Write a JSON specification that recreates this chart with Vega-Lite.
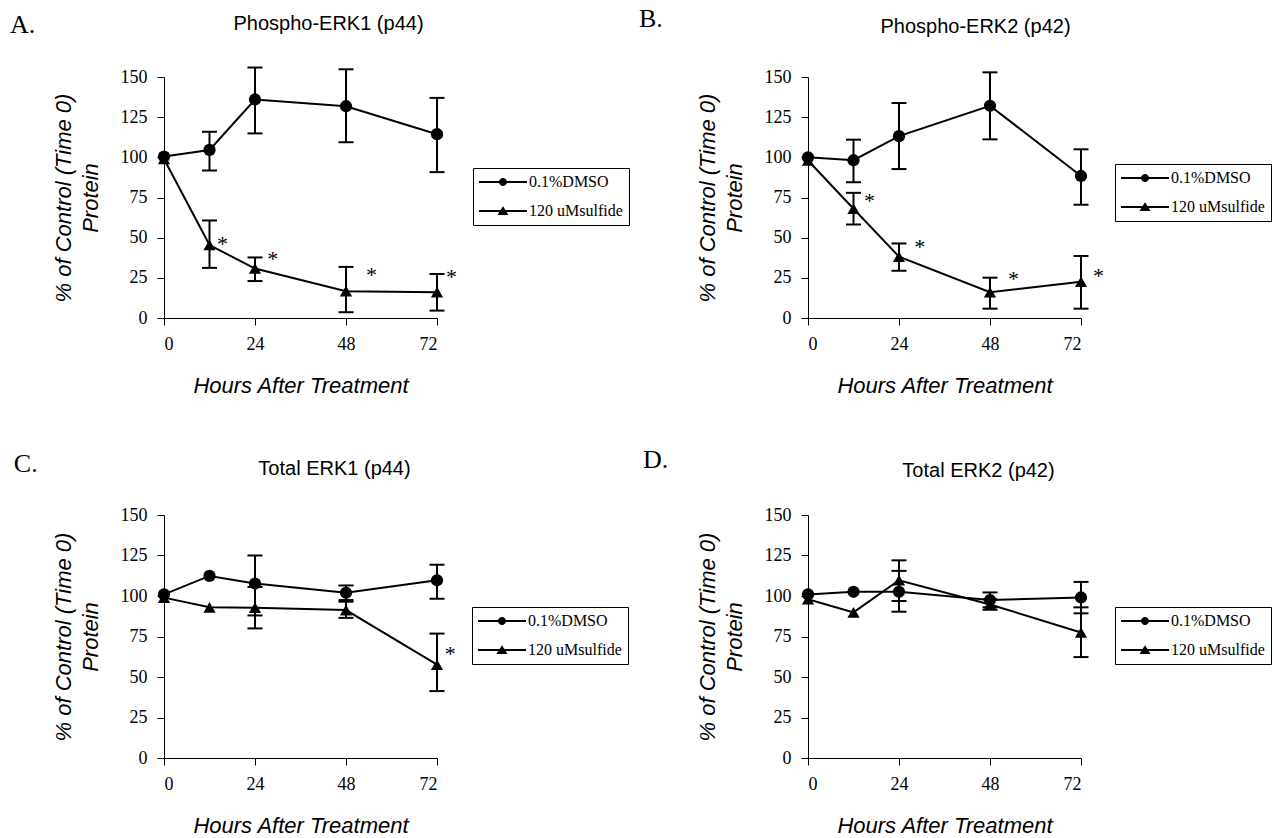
{
  "$schema": "https://vega.github.io/schema/vega-lite/v6.json",
  "padding": {"left": 10, "top": 6, "right": 0, "bottom": 0},
  "background": "white",
  "datasets": {
    "obs": [
      {"panel": "A", "series": "0.1%DMSO", "hour": 0, "mean": 100.5, "lo": null, "hi": null},
      {"panel": "A", "series": "0.1%DMSO", "hour": 12, "mean": 104.6, "lo": 91.8, "hi": 115.9},
      {"panel": "A", "series": "0.1%DMSO", "hour": 24, "mean": 136, "lo": 114.9, "hi": 155.9},
      {"panel": "A", "series": "0.1%DMSO", "hour": 48, "mean": 131.8, "lo": 109.4, "hi": 154.8},
      {"panel": "A", "series": "0.1%DMSO", "hour": 72, "mean": 114.4, "lo": 90.8, "hi": 137},
      {"panel": "A", "series": "120 uMsulfide", "hour": 0, "mean": 99, "lo": null, "hi": null},
      {"panel": "A", "series": "120 uMsulfide", "hour": 12, "mean": 45.4, "lo": 31.2, "hi": 60.7},
      {"panel": "A", "series": "120 uMsulfide", "hour": 24, "mean": 30.8, "lo": 23, "hi": 37.7},
      {"panel": "A", "series": "120 uMsulfide", "hour": 48, "mean": 16.7, "lo": 3.6, "hi": 31.8},
      {"panel": "A", "series": "120 uMsulfide", "hour": 72, "mean": 16.1, "lo": 4.6, "hi": 27.4},
      {"panel": "B", "series": "0.1%DMSO", "hour": 0, "mean": 100, "lo": null, "hi": null},
      {"panel": "B", "series": "0.1%DMSO", "hour": 12, "mean": 98.2, "lo": 84.5, "hi": 111},
      {"panel": "B", "series": "0.1%DMSO", "hour": 24, "mean": 113.2, "lo": 92.7, "hi": 133.8},
      {"panel": "B", "series": "0.1%DMSO", "hour": 48, "mean": 132.1, "lo": 111.2, "hi": 152.9},
      {"panel": "B", "series": "0.1%DMSO", "hour": 72, "mean": 88.4, "lo": 70.5, "hi": 105},
      {"panel": "B", "series": "120 uMsulfide", "hour": 0, "mean": 98, "lo": null, "hi": null},
      {"panel": "B", "series": "120 uMsulfide", "hour": 12, "mean": 68, "lo": 58.2, "hi": 77.9},
      {"panel": "B", "series": "120 uMsulfide", "hour": 24, "mean": 38.2, "lo": 29.4, "hi": 46.4},
      {"panel": "B", "series": "120 uMsulfide", "hour": 48, "mean": 16, "lo": 5.8, "hi": 25.1},
      {"panel": "B", "series": "120 uMsulfide", "hour": 72, "mean": 22.6, "lo": 5.8, "hi": 38.6},
      {"panel": "C", "series": "0.1%DMSO", "hour": 0, "mean": 101, "lo": null, "hi": null},
      {"panel": "C", "series": "0.1%DMSO", "hour": 12, "mean": 112.4, "lo": null, "hi": null},
      {"panel": "C", "series": "0.1%DMSO", "hour": 24, "mean": 107.7, "lo": 88, "hi": 125},
      {"panel": "C", "series": "0.1%DMSO", "hour": 48, "mean": 102, "lo": 97.5, "hi": 106.5},
      {"panel": "C", "series": "0.1%DMSO", "hour": 72, "mean": 109.7, "lo": 98.3, "hi": 119.3},
      {"panel": "C", "series": "120 uMsulfide", "hour": 0, "mean": 99, "lo": null, "hi": null},
      {"panel": "C", "series": "120 uMsulfide", "hour": 12, "mean": 93, "lo": null, "hi": null},
      {"panel": "C", "series": "120 uMsulfide", "hour": 24, "mean": 92.8, "lo": 80, "hi": 105.6},
      {"panel": "C", "series": "120 uMsulfide", "hour": 48, "mean": 91.3, "lo": 86.5, "hi": 96.5},
      {"panel": "C", "series": "120 uMsulfide", "hour": 72, "mean": 57.6, "lo": 41.3, "hi": 76.8},
      {"panel": "D", "series": "0.1%DMSO", "hour": 0, "mean": 101, "lo": null, "hi": null},
      {"panel": "D", "series": "0.1%DMSO", "hour": 12, "mean": 102.6, "lo": null, "hi": null},
      {"panel": "D", "series": "0.1%DMSO", "hour": 24, "mean": 102.6, "lo": 90.3, "hi": 115.5},
      {"panel": "D", "series": "0.1%DMSO", "hour": 48, "mean": 97.5, "lo": 93, "hi": 102.2},
      {"panel": "D", "series": "0.1%DMSO", "hour": 72, "mean": 99.1, "lo": 89.3, "hi": 108.7},
      {"panel": "D", "series": "120 uMsulfide", "hour": 0, "mean": 98, "lo": null, "hi": null},
      {"panel": "D", "series": "120 uMsulfide", "hour": 12, "mean": 89.9, "lo": null, "hi": null},
      {"panel": "D", "series": "120 uMsulfide", "hour": 24, "mean": 109.7, "lo": 96.9, "hi": 122},
      {"panel": "D", "series": "120 uMsulfide", "hour": 48, "mean": 94.8, "lo": 91.5, "hi": 98},
      {"panel": "D", "series": "120 uMsulfide", "hour": 72, "mean": 77.5, "lo": 62.3, "hi": 93}
    ],
    "stars": [
      {"panel": "A", "hour": 15.4, "y": 48.5, "label": "*"},
      {"panel": "A", "hour": 28.7, "y": 39.1, "label": "*"},
      {"panel": "A", "hour": 54.7, "y": 29.1, "label": "*"},
      {"panel": "A", "hour": 75.8, "y": 28.2, "label": "*"},
      {"panel": "B", "hour": 16.2, "y": 75.6, "label": "*"},
      {"panel": "B", "hour": 29.5, "y": 46.4, "label": "*"},
      {"panel": "B", "hour": 54.2, "y": 26.7, "label": "*"},
      {"panel": "B", "hour": 76.6, "y": 28.8, "label": "*"},
      {"panel": "C", "hour": 75.5, "y": 66.8, "label": "*"}
    ],
    "letters": [
      {"panel": "A", "hour": -40.6, "y": 177.4, "label": "A."},
      {"panel": "B", "hour": -44.6, "y": 181, "label": "B."},
      {"panel": "C", "hour": -39.6, "y": 176.5, "label": "C."},
      {"panel": "D", "hour": -43.5, "y": 179, "label": "D."}
    ]
  },
  "columns": 2,
  "spacing": {"row": 197, "column": 371},
  "bounds": "flush",
  "resolve": {"scale": {"shape": "independent", "opacity": "independent"}, "legend": {"shape": "independent", "opacity": "independent"}},
  "concat": [
    {
      "width": 273, "height": 241,
      "title": {"text": "Phospho-ERK1 (p44)", "dx": 28, "offset": -22.5},
      "layer": [
        {"data": {"name": "obs"}, "transform": [{"filter": "datum.panel === 'A' && isValid(datum.lo)"}],
         "mark": {"type": "rule", "strokeWidth": 2, "color": "black"},
         "encoding": {"x": {"field": "hour", "type": "quantitative", "scale": {"domain": [0, 72], "nice": false}, "axis": {"title": "Hours After Treatment", "values": [0, 24, 48, 72]}},
                      "y": {"field": "lo", "type": "quantitative", "scale": {"domain": [0, 150], "nice": false}, "axis": {"title": ["% of Control (Time 0)", "Protein"], "values": [0, 25, 50, 75, 100, 125, 150]}},
                      "y2": {"field": "hi"}}},
        {"data": {"name": "obs"}, "transform": [{"filter": "datum.panel === 'A' && isValid(datum.lo)"}, {"fold": ["lo", "hi"], "as": ["bound", "val"]}],
         "mark": {"type": "tick", "orient": "horizontal", "size": 15, "thickness": 2, "color": "black", "opacity": 1},
         "encoding": {"x": {"field": "hour", "type": "quantitative", "scale": {"domain": [0, 72], "nice": false}, "axis": {"title": "Hours After Treatment", "values": [0, 24, 48, 72]}},
                      "y": {"field": "val", "type": "quantitative", "scale": {"domain": [0, 150], "nice": false}, "axis": {"title": ["% of Control (Time 0)", "Protein"], "values": [0, 25, 50, 75, 100, 125, 150]}}}},
        {"data": {"name": "obs"}, "transform": [{"filter": "datum.panel === 'A'"}],
         "mark": {"type": "line", "strokeWidth": 2, "color": "black"},
         "encoding": {"x": {"field": "hour", "type": "quantitative", "scale": {"domain": [0, 72], "nice": false}, "axis": {"title": "Hours After Treatment", "values": [0, 24, 48, 72]}},
                      "y": {"field": "mean", "type": "quantitative", "scale": {"domain": [0, 150], "nice": false}, "axis": {"title": ["% of Control (Time 0)", "Protein"], "values": [0, 25, 50, 75, 100, 125, 150]}},
                      "detail": {"field": "series"}}},
        {"data": {"name": "obs"}, "transform": [{"filter": "datum.panel === 'A'"}],
         "mark": {"type": "point", "filled": true, "size": 150, "color": "black"},
         "encoding": {"x": {"field": "hour", "type": "quantitative", "scale": {"domain": [0, 72], "nice": false}, "axis": {"title": "Hours After Treatment", "values": [0, 24, 48, 72]}},
                      "y": {"field": "mean", "type": "quantitative", "scale": {"domain": [0, 150], "nice": false}, "axis": {"title": ["% of Control (Time 0)", "Protein"], "values": [0, 25, 50, 75, 100, 125, 150]}},
                      "shape": {"field": "series", "type": "nominal", "scale": {"range": ["circle", "triangle-up"]}, "legend": null},
                      "opacity": {"field": "series", "type": "ordinal", "scale": {"domain": ["0.1%DMSO", "120 uMsulfide"], "range": [1, 1]},
                                "legend": {"orient": "none", "legendX": 309, "legendY": 91, "direction": "vertical", "title": null,
                                           "symbolType": {"expr": "datum.value === '0.1%DMSO' ? 'M-1,-0.13L5,-0.13L5,0.13L-1,0.13Z M1.5,0A0.5,0.5 0 1,1 2.5,0A0.5,0.5 0 1,1 1.5,0Z' : 'M-1,-0.13L5,-0.13L5,0.13L-1,0.13Z M2,-0.6L2.69,0.5L1.31,0.5Z'"}}}}},
        {"data": {"name": "stars"}, "transform": [{"filter": "datum.panel === 'A'"}],
         "mark": {"type": "text", "font": "Liberation Serif", "fontSize": 22, "baseline": "middle", "align": "center", "dy": 4, "color": "black"},
         "encoding": {"x": {"field": "hour", "type": "quantitative", "scale": {"domain": [0, 72], "nice": false}, "axis": {"title": "Hours After Treatment", "values": [0, 24, 48, 72]}},
                      "y": {"field": "y", "type": "quantitative", "scale": {"domain": [0, 150], "nice": false}, "axis": {"title": ["% of Control (Time 0)", "Protein"], "values": [0, 25, 50, 75, 100, 125, 150]}},
                      "text": {"field": "label"}}},
        {"data": {"name": "letters"}, "transform": [{"filter": "datum.panel === 'A'"}],
         "mark": {"type": "text", "font": "Liberation Serif", "fontSize": 26, "baseline": "alphabetic", "align": "left", "color": "black"},
         "encoding": {"x": {"field": "hour", "type": "quantitative", "scale": {"domain": [0, 72], "nice": false}, "axis": {"title": "Hours After Treatment", "values": [0, 24, 48, 72]}},
                      "y": {"field": "y", "type": "quantitative", "scale": {"domain": [0, 150], "nice": false}, "axis": {"title": ["% of Control (Time 0)", "Protein"], "values": [0, 25, 50, 75, 100, 125, 150]}},
                      "text": {"field": "label"}}}
      ]
    },
    {
      "width": 273, "height": 241,
      "title": {"text": "Phospho-ERK2 (p42)", "dx": 31, "offset": -31},
      "layer": [
        {"data": {"name": "obs"}, "transform": [{"filter": "datum.panel === 'B' && isValid(datum.lo)"}],
         "mark": {"type": "rule", "strokeWidth": 2, "color": "black"},
         "encoding": {"x": {"field": "hour", "type": "quantitative", "scale": {"domain": [0, 72], "nice": false}, "axis": {"title": "Hours After Treatment", "values": [0, 24, 48, 72]}},
                      "y": {"field": "lo", "type": "quantitative", "scale": {"domain": [0, 150], "nice": false}, "axis": {"title": ["% of Control (Time 0)", "Protein"], "values": [0, 25, 50, 75, 100, 125, 150]}},
                      "y2": {"field": "hi"}}},
        {"data": {"name": "obs"}, "transform": [{"filter": "datum.panel === 'B' && isValid(datum.lo)"}, {"fold": ["lo", "hi"], "as": ["bound", "val"]}],
         "mark": {"type": "tick", "orient": "horizontal", "size": 15, "thickness": 2, "color": "black", "opacity": 1},
         "encoding": {"x": {"field": "hour", "type": "quantitative", "scale": {"domain": [0, 72], "nice": false}, "axis": {"title": "Hours After Treatment", "values": [0, 24, 48, 72]}},
                      "y": {"field": "val", "type": "quantitative", "scale": {"domain": [0, 150], "nice": false}, "axis": {"title": ["% of Control (Time 0)", "Protein"], "values": [0, 25, 50, 75, 100, 125, 150]}}}},
        {"data": {"name": "obs"}, "transform": [{"filter": "datum.panel === 'B'"}],
         "mark": {"type": "line", "strokeWidth": 2, "color": "black"},
         "encoding": {"x": {"field": "hour", "type": "quantitative", "scale": {"domain": [0, 72], "nice": false}, "axis": {"title": "Hours After Treatment", "values": [0, 24, 48, 72]}},
                      "y": {"field": "mean", "type": "quantitative", "scale": {"domain": [0, 150], "nice": false}, "axis": {"title": ["% of Control (Time 0)", "Protein"], "values": [0, 25, 50, 75, 100, 125, 150]}},
                      "detail": {"field": "series"}}},
        {"data": {"name": "obs"}, "transform": [{"filter": "datum.panel === 'B'"}],
         "mark": {"type": "point", "filled": true, "size": 150, "color": "black"},
         "encoding": {"x": {"field": "hour", "type": "quantitative", "scale": {"domain": [0, 72], "nice": false}, "axis": {"title": "Hours After Treatment", "values": [0, 24, 48, 72]}},
                      "y": {"field": "mean", "type": "quantitative", "scale": {"domain": [0, 150], "nice": false}, "axis": {"title": ["% of Control (Time 0)", "Protein"], "values": [0, 25, 50, 75, 100, 125, 150]}},
                      "shape": {"field": "series", "type": "nominal", "scale": {"range": ["circle", "triangle-up"]}, "legend": null},
                      "opacity": {"field": "series", "type": "ordinal", "scale": {"domain": ["0.1%DMSO", "120 uMsulfide"], "range": [1, 1]},
                                "legend": {"orient": "none", "legendX": 307, "legendY": 87, "direction": "vertical", "title": null,
                                           "symbolType": {"expr": "datum.value === '0.1%DMSO' ? 'M-1,-0.13L5,-0.13L5,0.13L-1,0.13Z M1.5,0A0.5,0.5 0 1,1 2.5,0A0.5,0.5 0 1,1 1.5,0Z' : 'M-1,-0.13L5,-0.13L5,0.13L-1,0.13Z M2,-0.6L2.69,0.5L1.31,0.5Z'"}}}}},
        {"data": {"name": "stars"}, "transform": [{"filter": "datum.panel === 'B'"}],
         "mark": {"type": "text", "font": "Liberation Serif", "fontSize": 22, "baseline": "middle", "align": "center", "dy": 4, "color": "black"},
         "encoding": {"x": {"field": "hour", "type": "quantitative", "scale": {"domain": [0, 72], "nice": false}, "axis": {"title": "Hours After Treatment", "values": [0, 24, 48, 72]}},
                      "y": {"field": "y", "type": "quantitative", "scale": {"domain": [0, 150], "nice": false}, "axis": {"title": ["% of Control (Time 0)", "Protein"], "values": [0, 25, 50, 75, 100, 125, 150]}},
                      "text": {"field": "label"}}},
        {"data": {"name": "letters"}, "transform": [{"filter": "datum.panel === 'B'"}],
         "mark": {"type": "text", "font": "Liberation Serif", "fontSize": 26, "baseline": "alphabetic", "align": "left", "color": "black"},
         "encoding": {"x": {"field": "hour", "type": "quantitative", "scale": {"domain": [0, 72], "nice": false}, "axis": {"title": "Hours After Treatment", "values": [0, 24, 48, 72]}},
                      "y": {"field": "y", "type": "quantitative", "scale": {"domain": [0, 150], "nice": false}, "axis": {"title": ["% of Control (Time 0)", "Protein"], "values": [0, 25, 50, 75, 100, 125, 150]}},
                      "text": {"field": "label"}}}
      ]
    },
    {
      "width": 273, "height": 243,
      "title": {"text": "Total ERK1 (p44)", "dx": 34, "offset": -27.6},
      "layer": [
        {"data": {"name": "obs"}, "transform": [{"filter": "datum.panel === 'C' && isValid(datum.lo)"}],
         "mark": {"type": "rule", "strokeWidth": 2, "color": "black"},
         "encoding": {"x": {"field": "hour", "type": "quantitative", "scale": {"domain": [0, 72], "nice": false}, "axis": {"title": "Hours After Treatment", "values": [0, 24, 48, 72]}},
                      "y": {"field": "lo", "type": "quantitative", "scale": {"domain": [0, 150], "nice": false}, "axis": {"title": ["% of Control (Time 0)", "Protein"], "values": [0, 25, 50, 75, 100, 125, 150]}},
                      "y2": {"field": "hi"}}},
        {"data": {"name": "obs"}, "transform": [{"filter": "datum.panel === 'C' && isValid(datum.lo)"}, {"fold": ["lo", "hi"], "as": ["bound", "val"]}],
         "mark": {"type": "tick", "orient": "horizontal", "size": 15, "thickness": 2, "color": "black", "opacity": 1},
         "encoding": {"x": {"field": "hour", "type": "quantitative", "scale": {"domain": [0, 72], "nice": false}, "axis": {"title": "Hours After Treatment", "values": [0, 24, 48, 72]}},
                      "y": {"field": "val", "type": "quantitative", "scale": {"domain": [0, 150], "nice": false}, "axis": {"title": ["% of Control (Time 0)", "Protein"], "values": [0, 25, 50, 75, 100, 125, 150]}}}},
        {"data": {"name": "obs"}, "transform": [{"filter": "datum.panel === 'C'"}],
         "mark": {"type": "line", "strokeWidth": 2, "color": "black"},
         "encoding": {"x": {"field": "hour", "type": "quantitative", "scale": {"domain": [0, 72], "nice": false}, "axis": {"title": "Hours After Treatment", "values": [0, 24, 48, 72]}},
                      "y": {"field": "mean", "type": "quantitative", "scale": {"domain": [0, 150], "nice": false}, "axis": {"title": ["% of Control (Time 0)", "Protein"], "values": [0, 25, 50, 75, 100, 125, 150]}},
                      "detail": {"field": "series"}}},
        {"data": {"name": "obs"}, "transform": [{"filter": "datum.panel === 'C'"}],
         "mark": {"type": "point", "filled": true, "size": 150, "color": "black"},
         "encoding": {"x": {"field": "hour", "type": "quantitative", "scale": {"domain": [0, 72], "nice": false}, "axis": {"title": "Hours After Treatment", "values": [0, 24, 48, 72]}},
                      "y": {"field": "mean", "type": "quantitative", "scale": {"domain": [0, 150], "nice": false}, "axis": {"title": ["% of Control (Time 0)", "Protein"], "values": [0, 25, 50, 75, 100, 125, 150]}},
                      "shape": {"field": "series", "type": "nominal", "scale": {"range": ["circle", "triangle-up"]}, "legend": null},
                      "opacity": {"field": "series", "type": "ordinal", "scale": {"domain": ["0.1%DMSO", "120 uMsulfide"], "range": [1, 1]},
                                "legend": {"orient": "none", "legendX": 308, "legendY": 92, "direction": "vertical", "title": null,
                                           "symbolType": {"expr": "datum.value === '0.1%DMSO' ? 'M-1,-0.13L5,-0.13L5,0.13L-1,0.13Z M1.5,0A0.5,0.5 0 1,1 2.5,0A0.5,0.5 0 1,1 1.5,0Z' : 'M-1,-0.13L5,-0.13L5,0.13L-1,0.13Z M2,-0.6L2.69,0.5L1.31,0.5Z'"}}}}},
        {"data": {"name": "stars"}, "transform": [{"filter": "datum.panel === 'C'"}],
         "mark": {"type": "text", "font": "Liberation Serif", "fontSize": 22, "baseline": "middle", "align": "center", "dy": 4, "color": "black"},
         "encoding": {"x": {"field": "hour", "type": "quantitative", "scale": {"domain": [0, 72], "nice": false}, "axis": {"title": "Hours After Treatment", "values": [0, 24, 48, 72]}},
                      "y": {"field": "y", "type": "quantitative", "scale": {"domain": [0, 150], "nice": false}, "axis": {"title": ["% of Control (Time 0)", "Protein"], "values": [0, 25, 50, 75, 100, 125, 150]}},
                      "text": {"field": "label"}}},
        {"data": {"name": "letters"}, "transform": [{"filter": "datum.panel === 'C'"}],
         "mark": {"type": "text", "font": "Liberation Serif", "fontSize": 26, "baseline": "alphabetic", "align": "left", "color": "black"},
         "encoding": {"x": {"field": "hour", "type": "quantitative", "scale": {"domain": [0, 72], "nice": false}, "axis": {"title": "Hours After Treatment", "values": [0, 24, 48, 72]}},
                      "y": {"field": "y", "type": "quantitative", "scale": {"domain": [0, 150], "nice": false}, "axis": {"title": ["% of Control (Time 0)", "Protein"], "values": [0, 25, 50, 75, 100, 125, 150]}},
                      "text": {"field": "label"}}}
      ]
    },
    {
      "width": 273, "height": 243,
      "title": {"text": "Total ERK2 (p42)", "dx": 34, "offset": -33.6},
      "layer": [
        {"data": {"name": "obs"}, "transform": [{"filter": "datum.panel === 'D' && isValid(datum.lo)"}],
         "mark": {"type": "rule", "strokeWidth": 2, "color": "black"},
         "encoding": {"x": {"field": "hour", "type": "quantitative", "scale": {"domain": [0, 72], "nice": false}, "axis": {"title": "Hours After Treatment", "values": [0, 24, 48, 72]}},
                      "y": {"field": "lo", "type": "quantitative", "scale": {"domain": [0, 150], "nice": false}, "axis": {"title": ["% of Control (Time 0)", "Protein"], "values": [0, 25, 50, 75, 100, 125, 150]}},
                      "y2": {"field": "hi"}}},
        {"data": {"name": "obs"}, "transform": [{"filter": "datum.panel === 'D' && isValid(datum.lo)"}, {"fold": ["lo", "hi"], "as": ["bound", "val"]}],
         "mark": {"type": "tick", "orient": "horizontal", "size": 15, "thickness": 2, "color": "black", "opacity": 1},
         "encoding": {"x": {"field": "hour", "type": "quantitative", "scale": {"domain": [0, 72], "nice": false}, "axis": {"title": "Hours After Treatment", "values": [0, 24, 48, 72]}},
                      "y": {"field": "val", "type": "quantitative", "scale": {"domain": [0, 150], "nice": false}, "axis": {"title": ["% of Control (Time 0)", "Protein"], "values": [0, 25, 50, 75, 100, 125, 150]}}}},
        {"data": {"name": "obs"}, "transform": [{"filter": "datum.panel === 'D'"}],
         "mark": {"type": "line", "strokeWidth": 2, "color": "black"},
         "encoding": {"x": {"field": "hour", "type": "quantitative", "scale": {"domain": [0, 72], "nice": false}, "axis": {"title": "Hours After Treatment", "values": [0, 24, 48, 72]}},
                      "y": {"field": "mean", "type": "quantitative", "scale": {"domain": [0, 150], "nice": false}, "axis": {"title": ["% of Control (Time 0)", "Protein"], "values": [0, 25, 50, 75, 100, 125, 150]}},
                      "detail": {"field": "series"}}},
        {"data": {"name": "obs"}, "transform": [{"filter": "datum.panel === 'D'"}],
         "mark": {"type": "point", "filled": true, "size": 150, "color": "black"},
         "encoding": {"x": {"field": "hour", "type": "quantitative", "scale": {"domain": [0, 72], "nice": false}, "axis": {"title": "Hours After Treatment", "values": [0, 24, 48, 72]}},
                      "y": {"field": "mean", "type": "quantitative", "scale": {"domain": [0, 150], "nice": false}, "axis": {"title": ["% of Control (Time 0)", "Protein"], "values": [0, 25, 50, 75, 100, 125, 150]}},
                      "shape": {"field": "series", "type": "nominal", "scale": {"range": ["circle", "triangle-up"]}, "legend": null},
                      "opacity": {"field": "series", "type": "ordinal", "scale": {"domain": ["0.1%DMSO", "120 uMsulfide"], "range": [1, 1]},
                                "legend": {"orient": "none", "legendX": 307, "legendY": 92, "direction": "vertical", "title": null,
                                           "symbolType": {"expr": "datum.value === '0.1%DMSO' ? 'M-1,-0.13L5,-0.13L5,0.13L-1,0.13Z M1.5,0A0.5,0.5 0 1,1 2.5,0A0.5,0.5 0 1,1 1.5,0Z' : 'M-1,-0.13L5,-0.13L5,0.13L-1,0.13Z M2,-0.6L2.69,0.5L1.31,0.5Z'"}}}}},
        {"data": {"name": "letters"}, "transform": [{"filter": "datum.panel === 'D'"}],
         "mark": {"type": "text", "font": "Liberation Serif", "fontSize": 26, "baseline": "alphabetic", "align": "left", "color": "black"},
         "encoding": {"x": {"field": "hour", "type": "quantitative", "scale": {"domain": [0, 72], "nice": false}, "axis": {"title": "Hours After Treatment", "values": [0, 24, 48, 72]}},
                      "y": {"field": "y", "type": "quantitative", "scale": {"domain": [0, 150], "nice": false}, "axis": {"title": ["% of Control (Time 0)", "Protein"], "values": [0, 25, 50, 75, 100, 125, 150]}},
                      "text": {"field": "label"}}}
      ]
    }
  ],
  "config": {
    "view": {"stroke": null},
    "font": "Liberation Sans",
    "title": {"font": "Liberation Sans", "fontSize": 20, "fontWeight": "normal", "color": "black", "anchor": "middle", "frame": "group", "baseline": "alphabetic"},
    "axis": {"grid": false, "domainColor": "black", "domainWidth": 1, "tickColor": "black", "tickWidth": 1, "tickSize": 7,
             "labelFont": "Liberation Serif", "labelFontSize": 18, "labelColor": "black",
             "titleFont": "Liberation Sans", "titleFontSize": 22, "titleFontStyle": "italic", "titleFontWeight": "normal", "titleColor": "black"},
    "axisX": {"labelPadding": 10, "titlePadding": 22, "labelAngle": 0},
    "axisY": {"labelPadding": 10, "titlePadding": 18, "titleLineHeight": 27},
    "legend": {"strokeColor": "black", "padding": 6, "rowPadding": 13, "labelFont": "Liberation Serif", "labelFontSize": 16, "labelColor": "black",
               "labelOffset": 34, "symbolSize": 256, "symbolStrokeWidth": 0, "symbolFillColor": "black", "labelBaseline": "middle"}
  }
}
